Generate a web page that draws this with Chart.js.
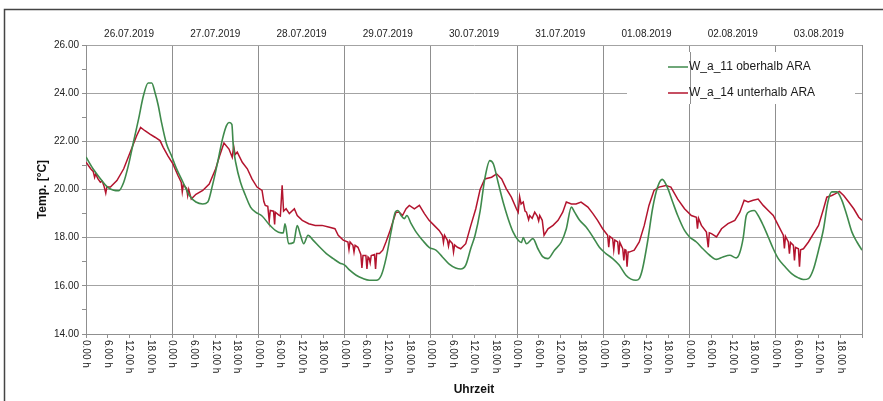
<!DOCTYPE html>
<html>
<head>
<meta charset="utf-8">
<script src="https://cdn.jsdelivr.net/npm/chart.js@4.4.1/dist/chart.umd.min.js"></script>
<style>
  html, body { margin: 0; padding: 0; background: #fff; }
</style>
</head>
<body>
<canvas id="myChart" width="883" height="401"></canvas>
<script>
'use strict';

// day labels across the top, hour labels repeated each day
const dayLabels = ['26.07.2019', '27.07.2019', '28.07.2019', '29.07.2019', '30.07.2019',
  '31.07.2019', '01.08.2019', '02.08.2019', '03.08.2019'];
const hourLabels = ['0.00 h', '6.00 h', '12.00 h', '18.00 h'];
const seriesNames = ['W_a_11 oberhalb ARA', 'W_a_14 unterhalb ARA'];

// [hours since 26.07.2019 0:00, temperature °C]
const obenReadings = [
  [0, 21.35], [2, 20.85], [4, 20.45], [6, 20.1], [7.7, 19.97], [9.1, 19.95], [10.5, 20.3], [11.8, 21.0],
  [13.2, 21.96], [14.6, 22.9], [16, 23.9], [17.3, 24.42], [18.3, 24.42], [19.2, 24.03], [20.1, 23.5],
  [21, 22.8], [22.4, 21.9], [23.8, 21.4], [25.1, 20.9], [27, 20.3], [28.8, 19.75], [30.6, 19.48],
  [32.5, 19.4], [33.9, 19.48], [35.2, 20.17], [36.6, 21.1], [38, 22.1], [39.1, 22.65], [39.8, 22.78],
  [40.6, 22.7], [41, 21.8], [41.7, 21.1], [43, 20.3], [44.4, 19.75], [45.8, 19.27], [47.2, 19.06],
  [49, 18.9], [50.8, 18.58], [52.7, 18.3], [54.3, 18.2], [54.9, 18.2], [55.4, 18.58], [56.4, 17.75],
  [57.8, 17.8], [58.8, 18.5], [59.7, 18.1], [60.6, 17.75], [61.8, 18.1], [63.2, 17.9], [65.1, 17.6],
  [66.9, 17.34], [68.8, 17.13], [70.6, 16.95], [72, 16.86], [73.4, 16.65], [75.2, 16.44], [77.1, 16.3],
  [78.9, 16.23], [80.8, 16.23], [82.2, 16.44], [83.5, 17.13], [84.9, 18.23], [86.1, 19.06], [86.8, 19.13],
  [87.7, 18.92], [88.6, 18.79], [89.3, 18.92], [90.5, 18.58], [91.9, 18.23], [93.7, 17.89], [95.5, 17.6],
  [97.4, 17.48], [99.2, 17.2], [101.1, 16.9], [102.9, 16.74], [104.3, 16.7], [105.7, 16.86], [107.1, 17.55],
  [108.3, 18.1], [109.7, 19.1], [111, 20.44], [112.4, 21.2], [113.4, 21.06], [114.7, 20.3], [116.1, 19.48],
  [117.5, 18.79], [118.9, 18.23], [120.3, 17.89], [121.2, 17.8], [121.7, 18.0], [122.6, 17.75], [124.4, 17.96],
  [125.8, 17.54], [127.2, 17.2], [128.6, 17.13], [130.4, 17.48], [132.3, 17.82], [133.7, 18.37], [135.1, 19.27],
  [136, 19.06], [137.4, 18.72], [139.2, 18.44], [141.1, 18.03], [142.9, 17.6], [144.7, 17.34], [146.6, 17.13],
  [148.4, 16.86], [150.3, 16.44], [151.7, 16.28], [153.1, 16.23], [154, 16.3], [154.9, 16.7], [156.3, 17.82],
  [157.7, 19.2], [159.1, 20.1], [160.4, 20.42], [161.8, 20.1], [163.3, 19.48], [164.7, 18.92], [166.6, 18.3],
  [168, 18.03], [169.9, 17.82], [171.7, 17.54], [173.6, 17.27], [175.5, 17.1], [177.3, 17.2], [179.2, 17.27],
  [181, 17.16], [181.9, 17.34], [182.9, 17.96], [183.8, 18.92], [184.8, 19.09], [186, 19.13], [187.1, 18.92],
  [188.5, 18.51], [189.9, 18.03], [191.3, 17.54], [192.7, 17.13], [194.6, 16.79], [196.4, 16.51], [198.3, 16.33],
  [199.7, 16.26], [201.1, 16.3], [202.5, 16.7], [203.9, 17.48], [205.3, 18.37], [206.5, 19.48], [207.6, 19.9],
  [209, 19.9], [210.4, 19.55], [211.8, 18.92], [213.2, 18.23], [214.6, 17.82], [216, 17.48]
];

const untenReadings = [
  [0, 21.13], [1.3, 20.86], [2, 20.75], [2.4, 20.5], [2.7, 20.65], [3.3, 20.45], [4, 20.3], [4.5, 20.35],
  [5, 20.15], [5.5, 19.85], [5.8, 20.1], [6.8, 20.1], [8.6, 20.37], [10.5, 20.86], [12.3, 21.55], [14.1, 22.23],
  [15.2, 22.58], [16.4, 22.44], [17.8, 22.3], [19.2, 22.17], [20.6, 22.03], [21.5, 21.75], [22.8, 21.4],
  [24.2, 21.06], [25.6, 20.58], [26.5, 20.3], [26.8, 19.9], [27.1, 20.2], [28, 20.05], [28.3, 19.75], [28.6, 20.0],
  [29.3, 19.6], [30.6, 19.8], [32.5, 19.96], [34.3, 20.23], [36.1, 20.86], [37.2, 21.4], [38.4, 21.93],
  [39.8, 21.68], [40.7, 21.34], [41.1, 21.8], [41.5, 21.45], [42.1, 21.55], [43.5, 21.13], [44.9, 20.86],
  [46.2, 20.44], [47.6, 20.1], [49, 19.96], [49.5, 19.5], [49.9, 19.34], [50.6, 19.3], [51, 18.7], [51.3, 19.13],
  [52.2, 19.1], [52.5, 18.55], [52.7, 19.06], [53.6, 18.95], [54.1, 18.9], [54.6, 20.17], [55, 19.1], [55.7, 19.2],
  [56.6, 19.0], [58, 19.2], [58.8, 18.92], [60.2, 18.72], [62, 18.58], [63.8, 18.51], [65.7, 18.51], [67.5, 18.44],
  [69.3, 18.37], [70.2, 18.1], [71.6, 17.9], [72.9, 17.82], [73.2, 17.5], [73.5, 17.82], [74.3, 17.68], [74.6, 17.4],
  [74.9, 17.68], [75.7, 17.6], [76.5, 17.3], [76.8, 16.74], [77.1, 17.26], [77.9, 17.26], [78.2, 16.7], [78.5, 17.2],
  [78.8, 17.15], [79.1, 16.95], [79.4, 17.26], [80.3, 17.3], [80.6, 16.7], [80.9, 17.34], [81.7, 17.34],
  [82.6, 17.48], [83.5, 17.82], [84.5, 18.23], [85.4, 18.65], [86.3, 19.06], [87.2, 19.06], [88.1, 18.92],
  [89.1, 19.2], [90, 19.34], [91.4, 19.2], [92.8, 19.34], [94.2, 19.0], [95.5, 18.72], [96.9, 18.51], [98.3, 18.3],
  [99.2, 18.1], [99.5, 17.8], [99.8, 18.1], [100.6, 17.89], [100.9, 17.65], [101.2, 17.89], [102, 17.75],
  [102.3, 17.4], [102.6, 17.7], [103.4, 17.6], [104.3, 17.54], [105.7, 17.75], [107.1, 18.5], [108.5, 19.2],
  [109.7, 20.0], [111, 20.44], [112.9, 20.51], [114.3, 20.65], [115.7, 20.44], [117, 20.03], [118.4, 19.68],
  [119.8, 19.2], [120.3, 19.05], [120.7, 19.7], [121.1, 19.4], [121.7, 19.48], [122.2, 19.1], [122.6, 19.06],
  [123.2, 18.75], [123.5, 18.92], [124.2, 18.8], [124.9, 19.06], [125.6, 18.9], [126, 18.7], [126.3, 18.92],
  [127, 18.72], [127.5, 18.1], [128.6, 18.37], [130, 18.51], [131.4, 18.72], [132.7, 19.06], [133.7, 19.48],
  [135.1, 19.4], [136.4, 19.4], [137.8, 19.48], [139.7, 19.27], [141.1, 19.0], [142.4, 18.72], [143.8, 18.37],
  [145.2, 18.1], [145.5, 17.6], [145.8, 18.05], [146.6, 17.96], [146.9, 17.5], [147.2, 17.9], [148, 17.82],
  [148.3, 17.3], [148.6, 17.8], [149.4, 17.54], [149.7, 17.05], [150, 17.5], [150.3, 17.48], [150.6, 16.79],
  [150.9, 17.4], [151.2, 17.4], [152.6, 17.48], [154, 17.82], [155.4, 18.51], [156.7, 19.34], [158.1, 19.96],
  [159.5, 20.1], [161.4, 20.17], [162.8, 20.1], [164.7, 19.6], [166.6, 19.2], [168.5, 18.92], [169.9, 18.85],
  [170.2, 18.37], [170.5, 18.8], [171.3, 18.51], [172.7, 18.23], [173.2, 17.6], [173.5, 18.2], [174.1, 18.17],
  [175.5, 18.03], [176.9, 18.37], [178.7, 18.58], [180.6, 18.72], [182, 19.06], [183.2, 19.55], [184.3, 19.48],
  [185.7, 19.55], [187.1, 19.6], [188.5, 19.34], [189.9, 19.13], [191.3, 18.92], [192.7, 18.51], [194.1, 18.1],
  [194.4, 17.55], [194.7, 18.05], [195.5, 17.82], [195.8, 17.34], [196.1, 17.8], [196.9, 17.68], [197.2, 17.05],
  [197.5, 17.6], [198.3, 17.54], [198.6, 16.79], [198.9, 17.5], [199.7, 17.54], [201.1, 17.82], [202.5, 18.17],
  [203.9, 18.51], [205.3, 19.2], [206.2, 19.68], [207.6, 19.75], [208.5, 19.82], [209.7, 19.92], [210.9, 19.75],
  [212.3, 19.48], [213.7, 19.2], [215.1, 18.85], [216, 18.72]
];

const FONT = '"Liberation Sans", Arial, sans-serif';
const GRID = '#8f8f8f';
const GRID_H = '#a3a3a3';
const GREEN = '#3f8a4c';
const RED = '#b3142e';

function toPoints(rows) {
  return rows.map(r => ({ x: r[0], y: r[1] }));
}

function stepTicks(from, to, step) {
  let out = [];
  for (let v = from; v <= to + 1e-9; v += step) out.push({ value: v });
  return out;
}

// page frame of the scanned sheet
const framePlugin = {
  id: 'frame',
  beforeDraw(chart) {
    const c = chart.ctx;
    c.save();
    c.fillStyle = '#fff';
    c.fillRect(0, 0, chart.width, chart.height);
    c.strokeStyle = '#444';
    c.lineWidth = 1.5;
    c.beginPath();
    c.moveTo(4.5, chart.height);
    c.lineTo(4.5, 9.5);
    c.lineTo(chart.width, 9.5);
    c.stroke();
    c.restore();
  }
};

// legend box inside the plot, top right
const legendPlugin = {
  id: 'boxLegend',
  beforeDatasetsDraw(chart) {
    const c = chart.ctx;
    const a = chart.chartArea;
    const xs = chart.scales.x;
    c.save();
    c.fillStyle = '#fff';
    c.fillRect(a.right - 235, a.top + 7, 228, 52);
    // the day line still shows through the box
    const px = Math.round(xs.getPixelForValue(168)) + 0.5;
    c.strokeStyle = GRID;
    c.lineWidth = 1;
    c.beginPath();
    c.moveTo(px, a.top + 7);
    c.lineTo(px, a.top + 59);
    c.stroke();
    const colors = [GREEN, RED];
    c.font = '12px ' + FONT;
    c.textBaseline = 'middle';
    c.textAlign = 'left';
    seriesNames.forEach((name, i) => {
      const y = a.top + 22 + i * 26;
      c.strokeStyle = colors[i];
      c.lineWidth = 1.5;
      c.beginPath();
      c.moveTo(a.right - 194, y);
      c.lineTo(a.right - 174, y);
      c.stroke();
      c.fillStyle = '#1a1a1a';
      c.fillText(name, a.right - 173, y);
    });
    c.restore();
  }
};

// hour labels turned clockwise, reading top-down
const hourLabelPlugin = {
  id: 'hourLabels',
  afterDraw(chart) {
    const c = chart.ctx;
    const xs = chart.scales.x;
    c.save();
    c.font = '10px ' + FONT;
    c.fillStyle = '#222';
    c.textAlign = 'left';
    c.textBaseline = 'middle';
    xs.ticks.forEach(t => {
      if (t.value >= 216) return;
      const label = hourLabels[Math.round((t.value % 24) / 6)];
      c.save();
      c.translate(xs.getPixelForValue(t.value), xs.top + 6);
      c.rotate(Math.PI / 2);
      c.fillText(label, 0, 0);
      c.restore();
    });
    c.restore();
  }
};

let ctx = document.getElementById('myChart').getContext('2d');
let myChart = new Chart(ctx, {
  type: 'line',
  data: {
    datasets: [{
      label: seriesNames[0],
      data: toPoints(obenReadings),
      borderColor: GREEN,
      borderWidth: 1.6,
      pointRadius: 0,
      cubicInterpolationMode: 'monotone',
      tension: 0.4
    }, {
      label: seriesNames[1],
      data: toPoints(untenReadings),
      borderColor: RED,
      borderWidth: 1.5,
      pointRadius: 0,
      tension: 0
    }]
  },
  options: {
    responsive: false,
    animation: false,
    devicePixelRatio: 1,
    layout: { padding: { left: 31, right: 21, top: 0, bottom: 0 } },
    plugins: {
      legend: { display: false },
      tooltip: { enabled: false }
    },
    scales: {
      x: {
        type: 'linear',
        position: 'bottom',
        min: 0,
        max: 216,
        afterBuildTicks: s => { s.ticks = stepTicks(0, 216, 6); },
        afterFit: s => { s.height = 67; },
        ticks: { display: false, autoSkip: false },
        grid: {
          color: c => (c.tick && c.tick.value % 24 === 0) ? GRID : 'transparent',
          tickColor: GRID,
          tickLength: 4,
          lineWidth: 1
        },
        border: { color: GRID },
        title: {
          display: true,
          text: 'Uhrzeit',
          color: '#111',
          font: { family: FONT, size: 12, weight: 'bold' }
        }
      },
      x2: {
        type: 'linear',
        position: 'top',
        min: 0,
        max: 216,
        afterBuildTicks: s => { s.ticks = stepTicks(12, 204, 24); },
        afterFit: s => { s.height = 45; },
        ticks: {
          autoSkip: false,
          maxRotation: 0,
          padding: 5,
          color: '#222',
          font: { family: FONT, size: 10 },
          callback: (v, i) => dayLabels[i]
        },
        grid: { display: false, drawTicks: false, tickLength: 0 },
        border: { display: false }
      },
      y: {
        min: 14,
        max: 26,
        afterBuildTicks: s => { s.ticks = stepTicks(14, 26, 1); },
        afterFit: s => { s.width = 55; },
        ticks: {
          autoSkip: false,
          padding: 3,
          color: '#222',
          font: { family: FONT, size: 10 },
          callback: v => (v % 2 === 0 ? v.toFixed(2) : '')
        },
        grid: {
          color: c => (c.tick && c.tick.value % 2 === 0) ? GRID_H : 'transparent',
          tickColor: GRID,
          tickLength: 4
        },
        border: { color: GRID },
        title: {
          display: true,
          text: 'Temp. [°C]',
          color: '#111',
          font: { family: FONT, size: 12, weight: 'bold' }
        }
      }
    }
  },
  plugins: [framePlugin, legendPlugin, hourLabelPlugin]
});
</script>
</body>
</html>
